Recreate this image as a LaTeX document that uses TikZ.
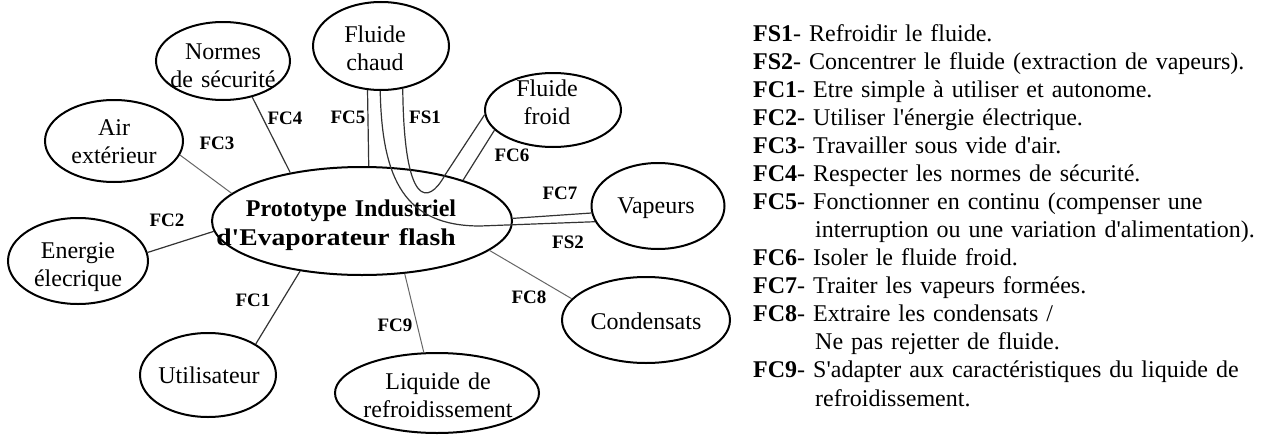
\documentclass[tikz,border=0pt]{standalone}
\usepackage{fontspec}
\setmainfont{Liberation Serif}
\usepackage{graphicx}
\usetikzlibrary{shapes.geometric}
\newcommand{\aq}{\textquotesingle}
\begin{document}
\begin{tikzpicture}[x=1pt,y=-1pt,
  ell/.style={draw, ellipse, line width=2pt, inner sep=0pt},
  etxt/.style={font=\fontsize{24}{28}\selectfont, align=center, text width=260pt, anchor=base, inner sep=0pt},
  conn/.style={draw=black!80, line width=1.2pt},
  connl/.style={draw=black!60, line width=1pt},
  flab/.style={font=\bfseries\fontsize{19}{22}\selectfont, inner sep=0pt},
  listtxt/.style={font=\fontsize{24}{28.08}\selectfont, align=left, text width=515pt, anchor=base west, inner sep=0pt}
]
\useasboundingbox[fill=white] (0,0) rectangle (1263,439);

% ellipses
\node[ell, minimum width=300pt, minimum height=108pt] (proto) at (362,221) {};
\node[ell, minimum width=134pt, minimum height=78pt] (normes) at (223,61) {};
\node[ell, minimum width=138pt, minimum height=82pt] (air) at (114,141) {};
\node[ell, minimum width=136pt, minimum height=88pt] (chaud) at (381,46) {};
\node[ell, minimum width=136pt, minimum height=74pt] (froid) at (553,110) {};
\node[ell, minimum width=140pt, minimum height=86pt] (energie) at (78,261) {};
\node[ell, minimum width=136pt, minimum height=84pt] (util) at (208,375) {};
\node[ell, minimum width=204pt, minimum height=80pt] (liquide) at (437,393) {};
\node[ell, minimum width=133pt, minimum height=86pt] (vap) at (658,206) {};
\node[ell, minimum width=168pt, minimum height=86pt] (cond) at (646,320) {};

% ellipse texts
\node[etxt] (proto-t1) at (351,216) {\bfseries Prototype Industriel};
\node[etxt] (proto-t2) at (336,245) {\bfseries\scalebox{1.15}[1]{d\aq Evaporateur flash}};
\node[etxt] (normes-t) at (223,59) {Normes\\de sécurité};
\node[etxt] (air-t) at (114,135) {Air\\extérieur};
\node[etxt] (chaud-t) at (375,42) {Fluide\\chaud};
\node[etxt] (froid-t) at (547,96) {Fluide\\froid};
\node[etxt] (energie-t) at (78,258) {Energie\\élecrique};
\node[etxt] (util-t) at (209,383) {Utilisateur};
\node[etxt] (liquide-t) at (438,389) {Liquide de\\refroidissement};
\node[etxt] (vap-t) at (656,213) {Vapeurs};
\node[etxt] (cond-t) at (646,329) {Condensats};

% connectors
\draw[conn] (proto.146) -- (normes.-51);
\draw[connl] (proto.168) -- (air.-12);
\draw[conn] (proto.184) -- (energie.7);
\draw[conn] (proto.219) -- (util.33);
\draw[connl] (proto.-51) -- (liquide.108);
\draw[connl] (proto.-13.5) -- (cond.164);
\draw[conn] (proto.1) -- (vap.186);
\draw[conn] (proto.22) -- (froid.199);
\draw[conn] (proto.83.5) -- (chaud.253);
\coordinate (fs1turn) at (445,175);
\coordinate (fs2turn) at (480,226);
\draw[conn] (chaud.297) .. controls (404,208) and (428,206) .. (fs1turn) -- (froid.184);
\draw[conn] (chaud.269) .. controls (382,180) and (405,226) .. (fs2turn) -- (vap.194);

% connector labels
\node[flab] (l-fc4) at (285,118) {FC4};
\node[flab] (l-fc3) at (217,143) {FC3};
\node[flab] (l-fc2) at (167,220) {FC2};
\node[flab] (l-fc1) at (253,300) {FC1};
\node[flab] (l-fc9) at (395,325) {FC9};
\node[flab] (l-fc8) at (529,297) {FC8};
\node[flab] (l-fc7) at (560,193) {FC7};
\node[flab] (l-fs2) at (568,242) {FS2};
\node[flab] (l-fc6) at (512,155) {FC6};
\node[flab] (l-fs1) at (425,117) {FS1};
\node[flab] (l-fc5) at (348,117) {FC5};

% legend list
\node[listtxt] (legend) at (753,41) {%
\textbf{FS1}- Refroidir le fluide.\\
\textbf{FS2}- Concentrer le fluide (extraction de vapeurs).\\
\textbf{FC1}- Etre simple à utiliser et autonome.\\
\textbf{FC2}- Utiliser l\aq énergie électrique.\\
\textbf{FC3}- Travailler sous vide d\aq air.\\
\textbf{FC4}- Respecter les normes de sécurité.\\
\textbf{FC5}- Fonctionner en continu (compenser une\\
\hspace*{62pt}interruption ou une variation d\aq alimentation).\\
\textbf{FC6}- Isoler le fluide froid.\\
\textbf{FC7}- Traiter les vapeurs formées.\\
\textbf{FC8}- Extraire les condensats /\\
\hspace*{62pt}Ne pas rejetter de fluide.\\
\textbf{FC9}- S\aq adapter aux caractéristiques du liquide de\\
\hspace*{62pt}refroidissement.};
\end{tikzpicture}
\end{document}
